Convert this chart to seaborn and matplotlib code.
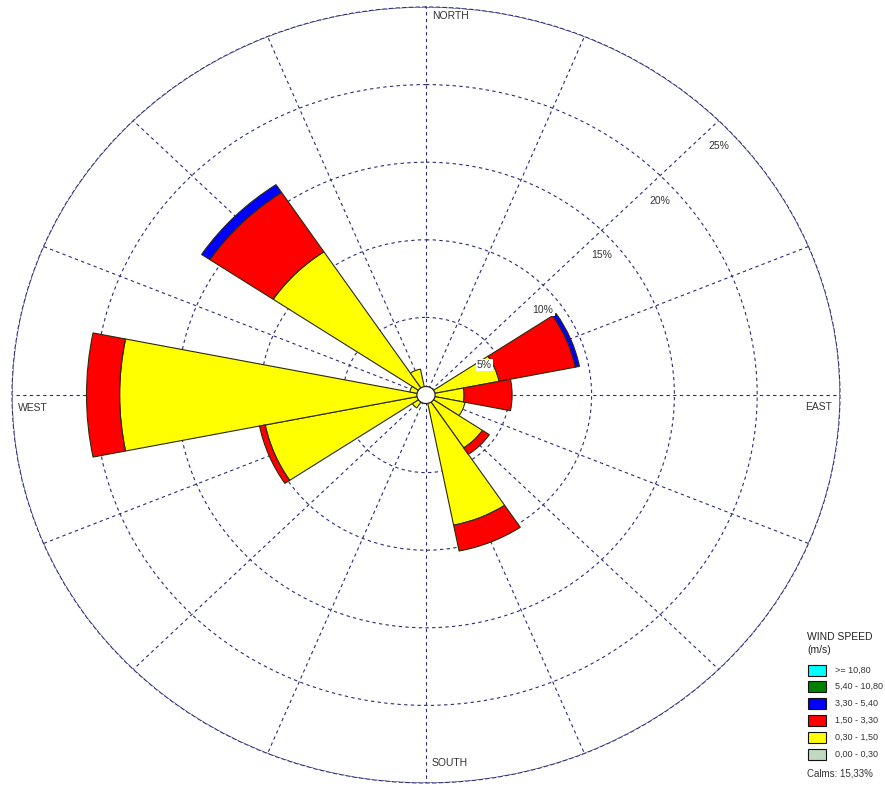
import numpy as np
import matplotlib
matplotlib.use('Agg')
import matplotlib.pyplot as plt
from matplotlib.patches import Rectangle
import seaborn as sns

# Wind rose data (% of time), 16 sectors clockwise from north
directions = ['N', 'NNE', 'NE', 'ENE', 'E', 'ESE', 'SE', 'SSE',
              'S', 'SSW', 'SW', 'WSW', 'W', 'WNW', 'NW', 'NNW']
angles_deg = [0, 22.5, 45, 67.5, 90, 112.5, 135, 157.5,
              180, 202.5, 225, 247.5, 270, 292.5, 315, 337.5]
speed_030_150 = [0, 0, 0, 4.5, 2.3, 2.4, 4.1, 8.55, 0, 0, 1.0, 9.9, 18.5, 1.0, 11.1, 1.7]
speed_150_330 = [0, 0, 0, 4.7, 2.9, 0, 0.5, 1.7, 0, 0, 0, 0.35, 2.0, 0, 4.6, 0]
speed_330_540 = [0, 0, 0, 0.25, 0, 0, 0, 0, 0, 0, 0, 0, 0, 0, 0.6, 0]
speed_540_1080 = [0] * 16
speed_ge_1080 = [0] * 16

class_labels = ['>= 10,80', '5,40 - 10,80', '3,30 - 5,40', '1,50 - 3,30', '0,30 - 1,50', '0,00 - 0,30']
class_colors = ['#00ffff', '#008000', '#0000ff', '#ff0000', '#ffff00', '#c0d9c0']
ring_values = [5, 10, 15, 20, 25]
calms_text = 'Calms: 15,33%'

sns.set_theme(style='white')
plt.rcParams['font.family'] = ['Liberation Sans', 'DejaVu Sans']

W, H = 885, 786
fig = plt.figure(figsize=(W / 100, H / 100), dpi=100)
fig.patch.set_facecolor('white')

# axes box in pixels: x 12..840, y 7..783
ax = fig.add_axes([12 / W, (H - 783) / H, 828 / W, 776 / H], projection='polar')
ax.set_theta_zero_location('N')
ax.set_theta_direction(-1)
ax.set_aspect('auto')
ax.set_facecolor('white')

theta = np.deg2rad(angles_deg)
width = np.deg2rad(22.5)
bottom = np.zeros(16)
stack = [(speed_030_150, class_colors[4]), (speed_150_330, class_colors[3]),
         (speed_330_540, class_colors[2]), (speed_540_1080, class_colors[1]),
         (speed_ge_1080, class_colors[0])]
for vals, col in stack:
    vals = np.array(vals, dtype=float)
    mask = vals > 0
    ax.bar(theta[mask], vals[mask], width=width, bottom=bottom[mask], color=col,
           edgecolor='#2a2a10', linewidth=0.8, zorder=3, align='center')
    bottom = bottom + vals

# calm circle
t = np.linspace(0, 2 * np.pi, 200)
ax.fill(t, np.full_like(t, 0.55), facecolor='white', edgecolor='#222222', linewidth=0.9, zorder=5)

ax.set_ylim(0, 25)
ax.set_yticks(ring_values)
ax.set_yticklabels([])
ax.set_xticks(theta)
ax.set_xticklabels([])
ax.grid(True, color='#2b2b7a', linestyle=(0, (3, 3)), linewidth=0.8)
ax.spines['polar'].set_linestyle((0, (3, 3)))
ax.spines['polar'].set_color('#2b2b7a')
ax.spines['polar'].set_linewidth(0.8)

for r in ring_values:
    ax.annotate(f'{r}%', xy=(np.pi / 4, r), xytext=(0, -25), textcoords='offset pixels',
                ha='center', va='center', fontsize=7.5, color='#333333', zorder=6,
                bbox=dict(boxstyle='square,pad=0.1', facecolor='white', edgecolor='none'))

lab_kw = dict(textcoords='offset pixels', fontsize=7.5, color='#333333', va='center')
ax.annotate('NORTH', xy=(0, 25), xytext=(6, -9), ha='left', **lab_kw)
ax.annotate('SOUTH', xy=(np.pi, 25), xytext=(6, 20), ha='left', **lab_kw)
ax.annotate('WEST', xy=(3 * np.pi / 2, 25), xytext=(6, -13), ha='left', **lab_kw)
ax.annotate('EAST', xy=(np.pi / 2, 25), xytext=(-8, -12), ha='right', **lab_kw)

# legend in pixel positions
def fx(x):
    return x / W

def fy(y):
    return (H - y) / H

fig.text(fx(807), fy(637), 'WIND SPEED', fontsize=7.5, color='#222222', va='center', ha='left')
fig.text(fx(807), fy(650), '(m/s)', fontsize=7.5, color='#222222', va='center', ha='left')
for i, (lab, col) in enumerate(zip(class_labels, class_colors)):
    yc = 670 + i * 16.8
    fig.add_artist(Rectangle((fx(808), fy(yc + 5.5)), 18 / W, 11 / H, transform=fig.transFigure,
                             facecolor=col, edgecolor='#111111', linewidth=0.8))
    fig.text(fx(835), fy(yc), lab, fontsize=6.5, color='#333333', va='center', ha='left')
fig.text(fx(807), fy(773), calms_text, fontsize=7, color='#333333', va='center', ha='left')

fig.savefig('out.png', dpi=100, facecolor='white')
